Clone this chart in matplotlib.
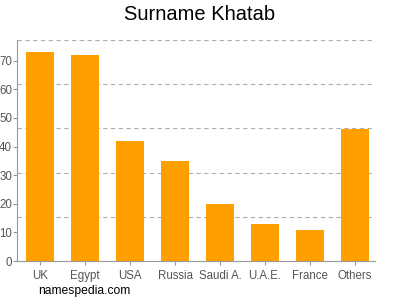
import matplotlib

matplotlib.use("Agg")
import matplotlib.pyplot as plt
import numpy as np

countries = ["UK", "Egypt", "USA", "Russia", "Saudi A.", "U.A.E.", "France", "Others"]
counts = [73, 72, 42, 35, 20, 13, 11, 46]
yticks = [0, 10, 20, 30, 40, 50, 60, 70]

plt.rcParams["font.family"] = ["Liberation Sans", "DejaVu Sans"]

fig = plt.figure(figsize=(4, 3), dpi=100)
ax = fig.add_axes([0.0425, 0.13, 0.895, 0.737])

x = np.arange(len(countries))
ax.bar(x, counts, width=0.62, color="#FFA000", zorder=3)

ymax = 77.3
ax.set_xlim(-0.51, 7.44)
ax.set_ylim(0, ymax)

# grid splits the plot into five equal bands, not on the tick values
for g in np.linspace(0, ymax, 6)[1:]:
    ax.axhline(g, color="#b0b0b0", lw=0.8, ls=(0, (4, 3)), zorder=1)

ax.set_xticks(x)
ax.set_xticklabels(countries)
ax.set_yticks(yticks)
ax.tick_params(axis="both", colors="#999999", labelcolor="#555555", labelsize=8.3,
               length=3, width=0.8)
ax.tick_params(axis="y", pad=0.5)
for side in ("top", "right"):
    ax.spines[side].set_visible(False)
for side in ("left", "bottom"):
    ax.spines[side].set_color("#999999")
    ax.spines[side].set_linewidth(0.8)

fig.text(0.5, 0.95, "Surname Khatab", ha="center", va="center", fontsize=14.5)
fig.text(0.095, 0.03, "namespedia.com", ha="left", va="center", fontsize=8.7)

fig.savefig("out.png", dpi=100)
